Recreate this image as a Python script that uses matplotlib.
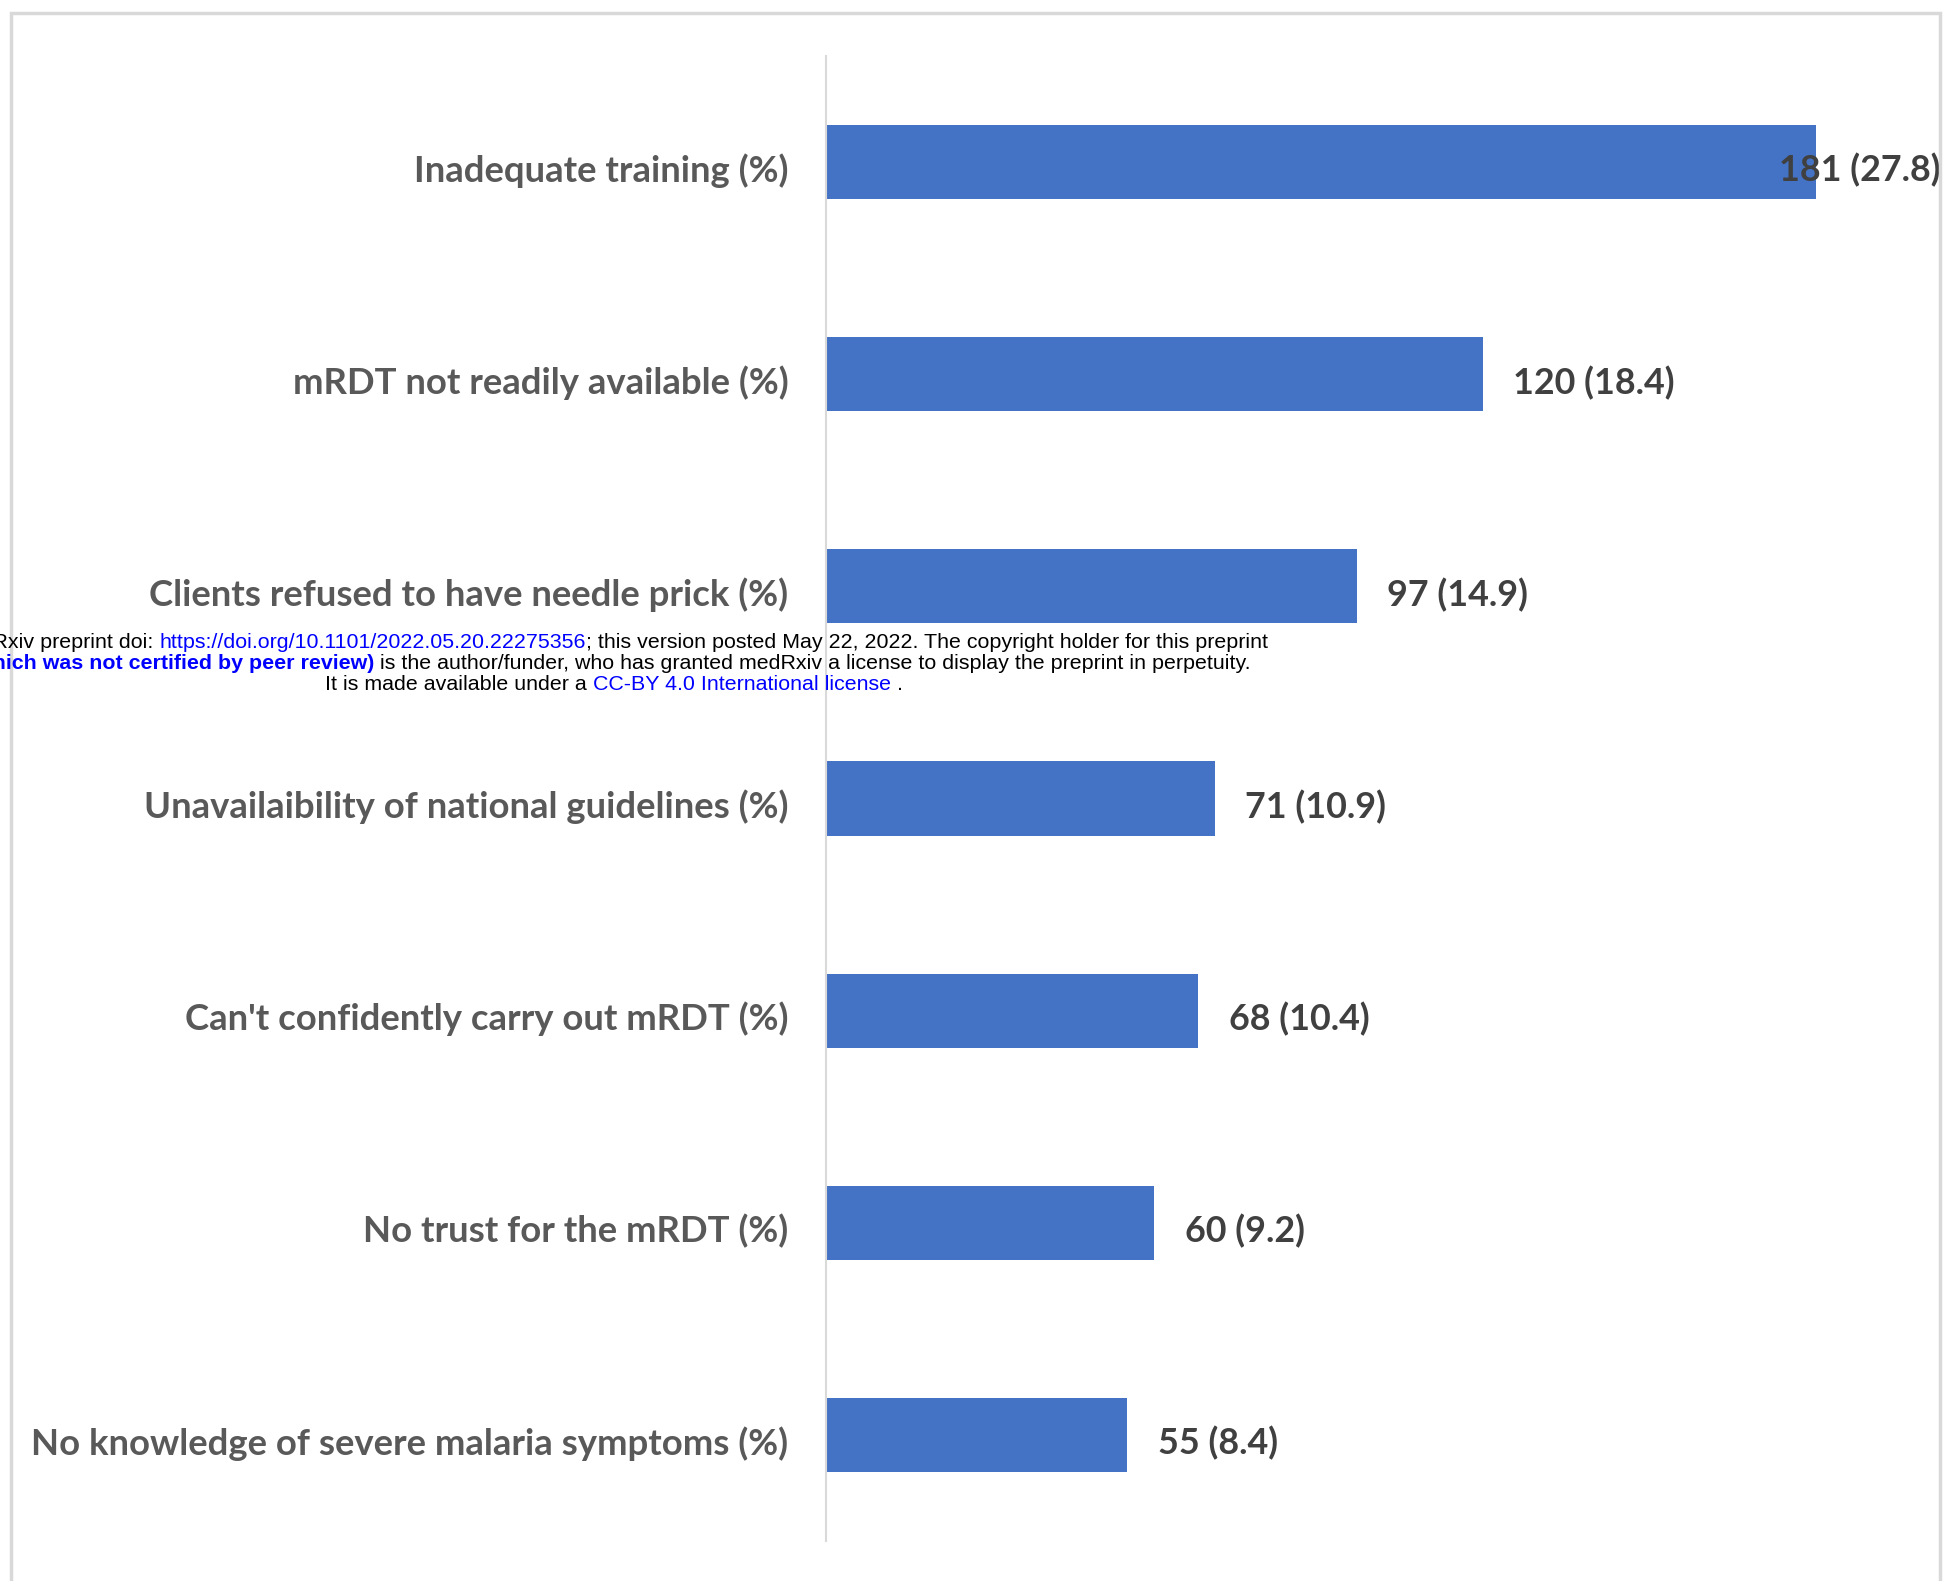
import matplotlib
matplotlib.use("Agg")
import matplotlib.pyplot as plt
from matplotlib.patches import Rectangle
from matplotlib.offsetbox import TextArea, HPacker, AnnotationBbox

# barriers to mRDT use, n (%)
categories = [
    "Inadequate training (%)",
    "mRDT not readily available (%)",
    "Clients refused to have needle prick (%)",
    "Unavailaibility of national guidelines (%)",
    "Can't confidently carry out mRDT (%)",
    "No trust for the mRDT (%)",
    "No knowledge of severe malaria symptoms (%)",
]
counts = [181, 120, 97, 71, 68, 60, 55]
percents = [27.8, 18.4, 14.9, 10.9, 10.4, 9.2, 8.4]

W, H, DPI = 1948, 1581, 100
fig = plt.figure(figsize=(W / DPI, H / DPI), dpi=DPI)
fig.patch.set_facecolor("white")

# light frame around the chart
fig.add_artist(Rectangle((11 / W, -0.05), (1940 - 11) / W, 1.05 - 13 / H,
                         transform=fig.transFigure, fill=False,
                         edgecolor="#D9D9D9", linewidth=2.5))

ax = fig.add_axes([826 / W, 1 - 1541 / H, (1940 - 826) / W, (1541 - 56) / H])
ypos = list(range(len(categories)))
ax.barh(ypos, counts, height=0.35, color="#4472C4", zorder=2)
ax.set_xlim(0, (1940 - 826) / 5.472)
ax.set_ylim(len(categories) - 0.5, -0.5)

for s in ["top", "right", "bottom"]:
    ax.spines[s].set_visible(False)
ax.spines["left"].set_color("#D9D9D9")
ax.spines["left"].set_linewidth(1.5)
ax.set_xticks([])
ax.set_yticks([])

for i, name in enumerate(categories):
    ax.annotate(name, xy=(0, i), xytext=(-27, -6), textcoords="offset points",
                ha="right", va="center", fontfamily="Lato", fontweight="bold",
                fontsize=26.3, color="#595959", annotation_clip=False)

for i, (c, p) in enumerate(zip(counts, percents)):
    # the longest bar's label is pulled back over the bar end
    off = -27 if i == 0 else 22
    ax.annotate(f"{c} ({p})", xy=(c, i), xytext=(off, -6),
                textcoords="offset points", ha="left", va="center",
                fontfamily="Lato", fontweight="bold", fontsize=25.8,
                color="#404040", zorder=3, annotation_clip=False)

# medRxiv watermark
def stamp(pieces, x, y, align):
    boxes = [TextArea(t, textprops=dict(fontfamily="Liberation Sans", fontsize=15.36,
                                        color=col, fontweight=fw))
             for t, col, fw in pieces]
    hp = HPacker(children=boxes, pad=0, sep=0, align="baseline")
    ab = AnnotationBbox(hp, (x, y), xycoords="figure pixels",
                        box_alignment=(align, 0.5), frameon=False, pad=0)
    fig.add_artist(ab)

stamp([("medRxiv preprint doi: ", "black", "normal"),
       ("https://doi.org/10.1101/2022.05.20.22275356", "#0000FF", "normal"),
       ("; this version posted May 22, 2022. The copyright holder for this preprint",
        "black", "normal")], 1268, H - 642.5, 1)
stamp([("(which was not certified by peer review)", "#0000FF", "bold"),
       (" is the author/funder, who has granted medRxiv a license to display the preprint in perpetuity.",
        "black", "normal")], 1251, H - 663.5, 1)
stamp([("It is made available under a ", "black", "normal"),
       ("CC-BY 4.0 International license", "#0000FF", "normal"),
       (" .", "black", "normal")], 325, H - 684.5, 0)

fig.savefig("out.png", dpi=DPI)
